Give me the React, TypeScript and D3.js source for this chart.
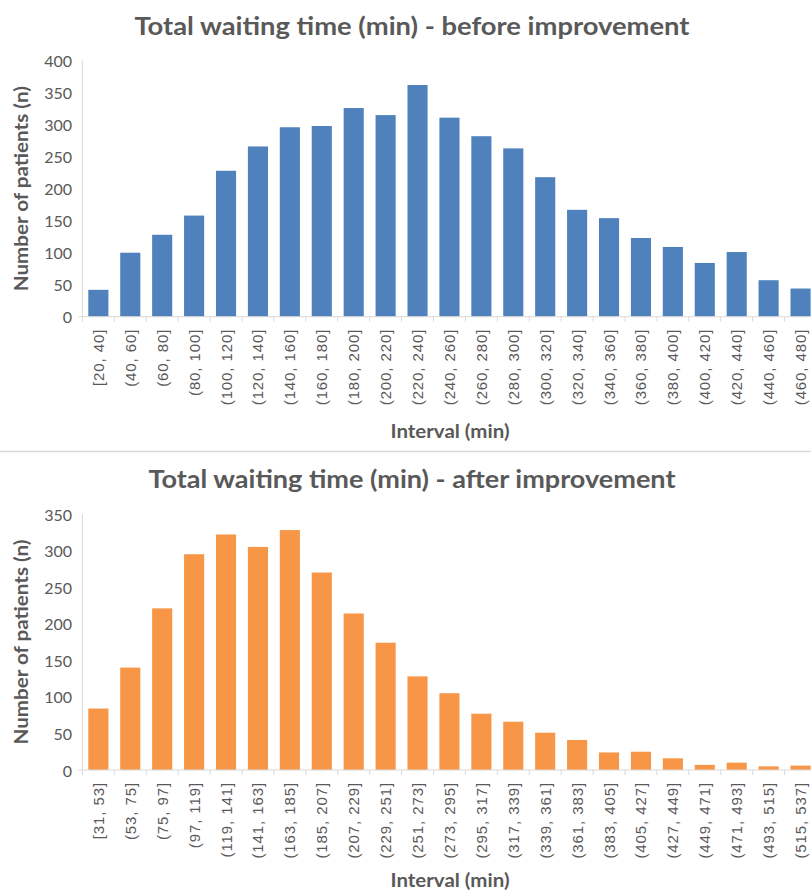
import React from "react";
import * as d3 from "d3";

const beforeLabels = ["[20, 40]", "(40, 60]", "(60, 80]", "(80, 100]", "(100, 120]", "(120, 140]", "(140, 160]", "(160, 180]", "(180, 200]", "(200, 220]", "(220, 240]", "(240, 260]", "(260, 280]", "(280, 300]", "(300, 320]", "(320, 340]", "(340, 360]", "(360, 380]", "(380, 400]", "(400, 420]", "(420, 440]", "(440, 460]", "(460, 480]"];
const beforeValues = [42, 100, 128, 158, 228, 266, 296, 298, 326, 315, 362, 311, 282, 263, 218, 167, 154, 123, 109, 84, 101, 57, 44];
const beforeTicks = [0, 50, 100, 150, 200, 250, 300, 350, 400];

const afterLabels = ["[31, 53]", "(53, 75]", "(75, 97]", "(97, 119]", "(119, 141]", "(141, 163]", "(163, 185]", "(185, 207]", "(207, 229]", "(229, 251]", "(251, 273]", "(273, 295]", "(295, 317]", "(317, 339]", "(339, 361]", "(361, 383]", "(383, 405]", "(405, 427]", "(427, 449]", "(449, 471]", "(471, 493]", "(493, 515]", "(515, 537]"];
const afterValues = [84, 140, 221, 295, 322, 305, 328, 270, 214, 174, 128, 105, 77, 66, 51, 41, 24, 25, 16, 7, 10, 5, 6];
const afterTicks = [0, 50, 100, 150, 200, 250, 300, 350];

const TEXT = "#595959";
const AXIS = "#d9d9d9";

type PanelProps = {
  title: string;
  titleY: number;
  titleWidth: number;
  labels: string[];
  values: number[];
  ticks: number[];
  yTop: number;
  yBottom: number;
  color: string;
  xTitleY: number;
};

function Panel({ title, titleY, titleWidth, labels, values, ticks, yTop, yBottom, color, xTitleY }: PanelProps) {
  const x = d3.scaleBand<string>().domain(labels).range([82.4, 816.5]).paddingInner(0.37).paddingOuter(0.185);
  const y = d3.scaleLinear().domain([0, d3.max(ticks) as number]).range([yBottom, yTop]);
  const step = x.step();
  const left = 82.4;
  const boundaries = d3.range(labels.length + 1).map((i) => left + i * step);
  return (
    <g>
      <text x={412} y={titleY} textAnchor="middle" dominantBaseline="central" fontFamily="Lato, 'Open Sans', sans-serif" fontWeight={700} fontSize={25} fill={TEXT} textLength={titleWidth} lengthAdjust="spacingAndGlyphs">
        {title}
      </text>
      <line x1={left} x2={left} y1={y(ticks[ticks.length - 1])} y2={y(0)} stroke={AXIS} strokeWidth={1} />
      {ticks.map((t) => (
        <text key={t} x={72} y={y(t)} textAnchor="end" dominantBaseline="central" fontFamily="Lato, sans-serif" fontSize={16} fill={TEXT}>
          {t}
        </text>
      ))}
      <text transform={`translate(21,${(yTop + yBottom) / 2}) rotate(-90)`} textAnchor="middle" dominantBaseline="central" fontFamily="Lato, sans-serif" fontWeight={700} fontSize={18} fill={TEXT} textLength={205} lengthAdjust="spacingAndGlyphs">
        Number of patients (n)
      </text>
      {labels.map((l, i) => (
        <rect key={l} x={x(l)} y={y(values[i])} width={x.bandwidth()} height={y(0) - y(values[i])} fill={color} />
      ))}
      <line x1={left - 4} x2={816.5} y1={y(0)} y2={y(0)} stroke={AXIS} strokeWidth={1} />
      {boundaries.map((b, i) => (
        <line key={i} x1={b} x2={b} y1={y(0)} y2={y(0) + 5} stroke={AXIS} strokeWidth={1} />
      ))}
      {labels.map((l) => {
        const cx = (x(l) as number) + x.bandwidth() / 2;
        const ty = y(0) + 12;
        return (
          <text key={l} transform={`translate(${cx},${ty}) rotate(-90)`} textAnchor="end" dominantBaseline="central" fontFamily="'Liberation Sans', Arial, sans-serif" fontSize={15} letterSpacing={0.9} fill={TEXT}>
            {l}
          </text>
        );
      })}
      <text x={450} y={xTitleY} textAnchor="middle" dominantBaseline="central" fontFamily="Lato, sans-serif" fontWeight={700} fontSize={18} fill={TEXT} textLength={119} lengthAdjust="spacingAndGlyphs">
        Interval (min)
      </text>
    </g>
  );
}

export default function App() {
  return (
    <svg width={811} height={891} style={{ position: "absolute", left: 0, top: 0, display: "block", background: "#fff" }}>
      <rect x={0} y={0} width={811} height={891} fill="#fff" />
      <Panel
        title="Total waiting time (min) - before improvement"
        titleY={25}
        titleWidth={555}
        labels={beforeLabels}
        values={beforeValues}
        ticks={beforeTicks}
        yTop={60.7}
        yBottom={316.7}
        color="#4F81BD"
        xTitleY={431}
      />
      <line x1={0} x2={811} y1={451.5} y2={451.5} stroke={AXIS} strokeWidth={1.5} />
      <Panel
        title="Total waiting time (min) - after improvement"
        titleY={478}
        titleWidth={527}
        labels={afterLabels}
        values={afterValues}
        ticks={afterTicks}
        yTop={514}
        yBottom={770}
        color="#F79646"
        xTitleY={880}
      />
    </svg>
  );
}
